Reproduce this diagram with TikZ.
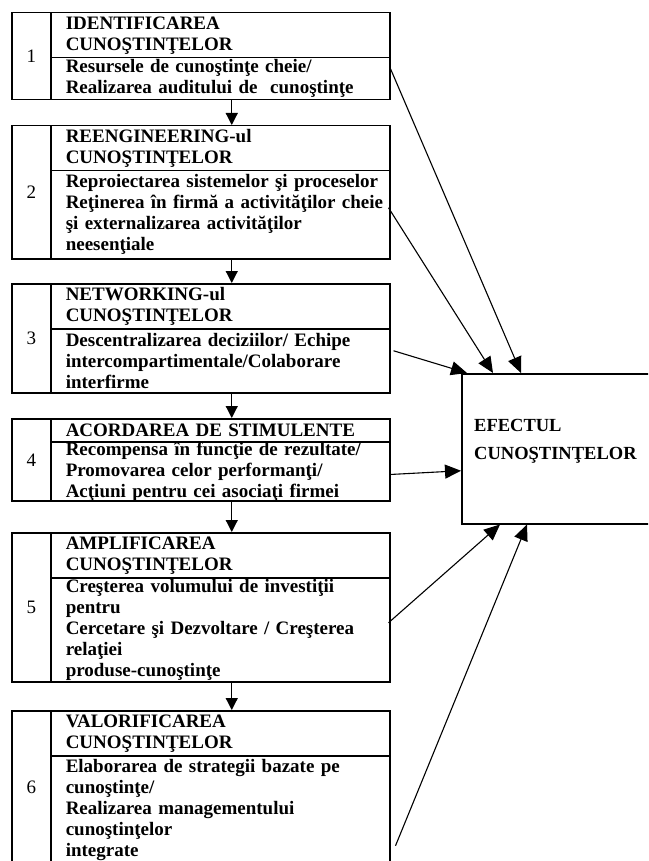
\documentclass[tikz,border=0pt]{standalone}
\usepackage{fontspec}
\setmainfont{Liberation Serif}
\usetikzlibrary{arrows.meta,calc}
\definecolor{LineClr}{rgb}{0,0,0}

\begin{document}
\begin{tikzpicture}[x=1pt,y=-1pt,
  cell/.style={draw=LineClr,line width=1.5pt,inner sep=0pt,anchor=north west},
  numcell/.style={cell,minimum width=39pt,font=\fontsize{19}{21}\selectfont},
  txtcell/.style={cell,minimum width=339pt,text width=331pt,inner xsep=4pt,align=left,
    font=\fontsize{19}{21}\selectfont\bfseries,execute at begin node={\leftskip=11pt}},
  effcell/.style={cell,minimum width=200pt,minimum height=150pt},
  efftxt/.style={inner sep=0pt,anchor=base west,align=left,font=\fontsize{18.5}{28}\selectfont\bfseries},
  down/.style={draw=LineClr,line width=1.2pt,-{Triangle[length=12pt,width=12pt]}},
  toeff/.style={draw=LineClr,line width=1.1pt,-{Triangle[length=16pt,width=14pt]}}]
\clip (0,0) rectangle (648,861);

\node[numcell,minimum height=87pt] (n1) at (11,12) {1};
\node[txtcell,minimum height=45pt] (t1) at (50,12) {IDENTIFICAREA\\CUNOŞTINŢELOR};
\node[txtcell,minimum height=42pt] (d1) at (50,57) {Resursele de cunoştinţe cheie/\\Realizarea auditului de\ \ cunoştinţe};

\node[numcell,minimum height=133pt] (n2) at (11,125) {2};
\node[txtcell,minimum height=45pt] (t2) at (50,125) {REENGINEERING-ul\\CUNOŞTINŢELOR};
\node[txtcell,minimum height=88pt] (d2) at (50,170) {Reproiectarea sistemelor şi proceselor\\Reţinerea în firmă a activităţilor cheie\\şi externalizarea activităţilor\\neesenţiale};

\node[numcell,minimum height=109pt] (n3) at (11,283) {3};
\node[txtcell,minimum height=45pt] (t3) at (50,283) {NETWORKING-ul\\CUNOŞTINŢELOR};
\node[txtcell,minimum height=64pt] (d3) at (50,328) {Descentralizarea deciziilor/ Echipe\\intercompartimentale/Colaborare\\interfirme};

\node[numcell,minimum height=82pt] (n4) at (11,418) {4};
\node[txtcell,minimum height=23pt] (t4) at (50,418) {ACORDAREA DE STIMULENTE};
\node[txtcell,minimum height=59pt] (d4) at (50,441) {Recompensa în funcţie de rezultate/\\Promovarea celor performanţi/\\Acţiuni pentru cei asociaţi firmei};

\node[numcell,minimum height=149pt] (n5) at (11,532) {5};
\node[txtcell,minimum height=45pt] (t5) at (50,532) {AMPLIFICAREA\\CUNOŞTINŢELOR};
\node[txtcell,minimum height=104pt] (d5) at (50,577) {Creşterea volumului de investiţii\\pentru\\Cercetare şi Dezvoltare / Creşterea\\relaţiei\\produse-cunoştinţe};

\node[numcell,minimum height=153pt] (n6) at (11,710) {6};
\node[txtcell,minimum height=45pt] (t6) at (50,710) {VALORIFICAREA\\CUNOŞTINŢELOR};
\node[txtcell,minimum height=108pt] (d6) at (50,755) {Elaborarea de strategii bazate pe\\cunoştinţe/\\Realizarea managementului\\cunoştinţelor\\integrate};

\node[effcell] (ef) at (461,373) {};
\node[efftxt] (eft) at (474,459) {EFECTUL\\CUNOŞTINŢELOR};

\draw[down] ([xshift=11.5pt]d1.south) -- ([xshift=11.5pt]t2.north);
\draw[down] ([xshift=11.5pt]d2.south) -- ([xshift=11.5pt]t3.north);
\draw[down] ([xshift=11.5pt]d3.south) -- ([xshift=11.5pt]t4.north);
\draw[down] ([xshift=11.5pt]d4.south) -- ([xshift=11.5pt]t5.north);
\draw[down] ([xshift=11.5pt]d5.south) -- ([xshift=11.5pt]t6.north);

\draw[toeff] ([yshift=10pt]d1.east) -- ([xshift=60pt]ef.north west);
\draw[toeff] ([xshift=-2pt,yshift=7pt]d2.east) -- ([xshift=32pt]ef.north west);
\draw[toeff] ([xshift=3pt,yshift=10pt]d3.east) -- ([xshift=6pt]ef.north west);
\draw[toeff] ([yshift=-3pt]d4.east) -- ([yshift=-22pt]ef.west);
\draw[toeff] ([xshift=-2pt,yshift=7pt]d5.east) -- ([xshift=39pt]ef.south west);
\draw[toeff] ([xshift=5pt,yshift=-36pt]d6.east) -- ([xshift=66pt]ef.south west);

\end{tikzpicture}
\end{document}
